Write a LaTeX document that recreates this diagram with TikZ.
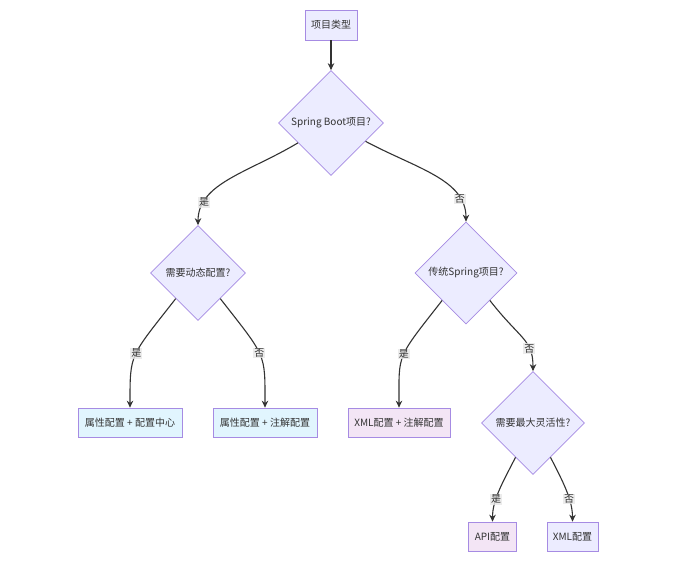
\documentclass[tikz,border=0pt]{standalone}
\usepackage{fontspec}
\setmainfont{Noto Sans CJK SC}
\usetikzlibrary{shapes.geometric,arrows.meta}
\definecolor{nodefill}{HTML}{ECECFF}
\definecolor{nodestroke}{HTML}{A68BE3}
\definecolor{bluefill}{HTML}{E1F5FE}
\definecolor{pinkfill}{HTML}{F3E5F5}
\definecolor{txt}{HTML}{333333}
\definecolor{edgecol}{HTML}{333333}
\definecolor{lblbg}{HTML}{E8E8E8}
\begin{document}
\begin{tikzpicture}[x=1pt,y=1pt,
  font=\fontsize{10}{12}\selectfont, text=txt,
  decision/.style={diamond, aspect=1, draw=nodestroke, fill=nodefill, line width=0.7pt, inner sep=0pt, minimum size=#1},
  box/.style={rectangle, draw=nodestroke, line width=0.7pt, minimum height=29pt, inner xsep=6pt, inner ysep=2pt},
  arr/.style={draw=edgecol, line width=1.1pt, -{Stealth[length=7pt,width=6.5pt]}},
  lbl/.style={fill=lblbg, fill opacity=0.8, text opacity=1, inner sep=1pt, font=\fontsize{10}{12}\selectfont}]
\useasboundingbox[fill=white] (0,0) rectangle (687,-567);

\node[box, fill=nodefill, minimum width=52pt, minimum height=30pt] (start) at (331,-25) {项目类型};
\node[decision=105pt] (sb) at (331,-123) {Spring Boot项目?};
\node[decision=95pt] (dyn) at (198,-273) {需要动态配置?};
\node[decision=102pt] (trad) at (466,-273) {传统Spring项目?};
\node[decision=103pt] (flex) at (533,-423) {需要最大灵活性?};

\node[box, fill=bluefill, minimum width=104pt] (l1) at (130,-422.5) {属性配置 + 配置中心};
\node[box, fill=bluefill, minimum width=104pt] (l2) at (265,-422.5) {属性配置 + 注解配置};
\node[box, fill=pinkfill, minimum width=102pt] (l3) at (399,-422.5) {XML配置 + 注解配置};
\node[box, fill=pinkfill, minimum width=47pt] (l4) at (492.5,-536.5) {API配置};
\node[box, fill=nodefill, minimum width=51pt] (l5) at (572.5,-536.5) {XML配置};

\draw[arr] (start) -- (sb);
\draw[arr] (sb.211) .. controls +(211:58) and +(90:42) .. node[lbl,pos=0.79]{是} (dyn.north);
\draw[arr] (sb.332) .. controls +(332:58) and +(90:42) .. node[lbl,pos=0.79]{否} (trad.north);
\draw[arr] (dyn.229) .. controls +(232:75) and +(90:55) .. node[lbl,pos=0.48]{是} (l1.north);
\draw[arr] (dyn.311) .. controls +(308:75) and +(90:55) .. node[lbl,pos=0.48]{否} (l2.north);
\draw[arr] (trad.229) .. controls +(232:75) and +(90:55) .. node[lbl,pos=0.48]{是} (l3.north);
\draw[arr] (trad.311) .. controls +(308:50) and +(90:32) .. node[lbl,pos=0.69]{否} (flex.north);
\draw[arr] (flex.243) .. controls +(243:28) and +(90:22) .. node[lbl,pos=0.64]{是} (l4.north);
\draw[arr] (flex.297) .. controls +(297:28) and +(90:22) .. node[lbl,pos=0.64]{否} (l5.north);
\end{tikzpicture}
\end{document}
